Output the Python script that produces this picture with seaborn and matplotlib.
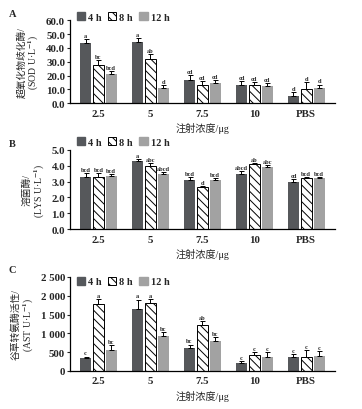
import numpy as np
import pandas as pd
import seaborn as sns
import matplotlib
matplotlib.use("Agg")
import matplotlib.pyplot as plt
from matplotlib.patches import Patch
from matplotlib.ticker import FuncFormatter, MultipleLocator

# ---------------- data ----------------
doses = ["2.5", "5", "7.5", "10", "PBS"]
times = ["4 h", "8 h", "12 h"]

sod_4h = [43.5, 44.5, 16.5, 13.0, 5.5]
sod_8h = [27.5, 32.0, 13.0, 13.0, 10.0]
sod_12h = [21.0, 11.0, 14.5, 12.5, 11.0]
sod_err_4h = [3.0, 2.5, 4.0, 3.0, 2.5]
sod_err_8h = [4.0, 3.5, 3.0, 2.5, 5.0]
sod_err_12h = [2.0, 2.0, 2.0, 2.0, 2.5]
sod_sig_4h = ["a", "a", "cd", "cd", "d"]
sod_sig_8h = ["bc", "ab", "cd", "cd", "d"]
sod_sig_12h = ["bcd", "d", "cd", "cd", "d"]

lys_4h = [3.30, 4.30, 3.10, 3.45, 3.00]
lys_8h = [3.30, 4.00, 2.65, 4.10, 3.25]
lys_12h = [3.35, 3.45, 3.10, 3.90, 3.20]
lys_err_4h = [0.25, 0.15, 0.20, 0.20, 0.15]
lys_err_8h = [0.25, 0.20, 0.05, 0.10, 0.05]
lys_err_12h = [0.15, 0.15, 0.15, 0.15, 0.10]
lys_sig_4h = ["bcd", "a", "bcd", "abcd", "cd"]
lys_sig_8h = ["bcd", "abc", "d", "ab", "bcd"]
lys_sig_12h = ["bcd", "abcd", "bcd", "abc", "bcd"]

ast_4h = [330, 1650, 600, 210, 380]
ast_8h = [1770, 1810, 1210, 420, 380]
ast_12h = [560, 920, 790, 380, 400]
ast_err_4h = [50, 250, 100, 40, 60]
ast_err_8h = [150, 100, 120, 70, 170]
ast_err_12h = [120, 120, 100, 120, 120]
ast_sig_4h = ["c", "a", "bc", "c", "c"]
ast_sig_8h = ["a", "a", "ab", "c", "c"]
ast_sig_12h = ["bc", "bc", "bc", "c", "c"]

# ---------------- style ----------------
sns.set_style("white")
plt.rcParams["font.family"] = ["Liberation Serif", "Noto Sans CJK SC"]
plt.rcParams["mathtext.fontset"] = "stix"
plt.rcParams["hatch.linewidth"] = 0.7
plt.rcParams["font.weight"] = "bold"

c4 = "#55585c"
c12 = "#a2a2a2"
palette = {"4 h": c4, "8 h": "white", "12 h": c12}
HATCH = "\\\\\\\\"


def make_df(v4, v8, v12):
    rows = []
    for t, vals in zip(times, [v4, v8, v12]):
        for d, v in zip(doses, vals):
            rows.append({"dose": d, "time": t, "value": v})
    return pd.DataFrame(rows)


def panel(ax, vals, errs, sigs, ymax, ystep, fmt, ylabel, letter, leg_y, sig_off):
    df = make_df(*vals)
    sns.barplot(data=df, x="dose", y="value", hue="time", order=doses,
                hue_order=times, palette=palette, width=0.74, gap=0.14,
                errorbar=None, ax=ax, legend=False, linewidth=0)
    bar_conts = list(ax.containers)
    for i, cont in enumerate(bar_conts):
        for j, bar in enumerate(cont.patches):
            if i == 1:
                bar.set_facecolor("white")
                bar.set_edgecolor("black")
                bar.set_hatch(HATCH)
                bar.set_linewidth(0.7)
            x = bar.get_x() + bar.get_width() / 2
            h = bar.get_height()
            e = errs[i][j]
            ax.errorbar(x, h, yerr=[[0], [e]], fmt="none", ecolor="black",
                        elinewidth=0.7, capsize=1.8, capthick=0.7)
            ax.text(x, h + e + sig_off, sigs[i][j], ha="center", va="bottom",
                    fontsize=4.6, fontweight="bold")
    ax.set_ylim(0, ymax)
    ax.set_xlim(-0.55, 4.55)
    ax.yaxis.set_major_locator(MultipleLocator(ystep))
    ax.yaxis.set_major_formatter(FuncFormatter(fmt))
    sns.despine(ax=ax)
    for s in ["left", "bottom"]:
        ax.spines[s].set_linewidth(0.9)
        ax.spines[s].set_color("black")
    ax.tick_params(axis="y", direction="out", length=2, width=0.8, pad=1.5,
                   labelsize=7.8, left=True)
    ax.tick_params(axis="x", length=0, pad=4, labelsize=7.8)
    for lab in ax.get_xticklabels() + ax.get_yticklabels():
        lab.set_fontweight("bold")
    ax.set_xlabel("注射浓度/μg", fontsize=7.3, labelpad=3)
    ax.set_ylabel(ylabel, fontsize=7.0, labelpad=3.5, linespacing=1.05)
    handles = [Patch(facecolor=c4, edgecolor=c4, label="4 h"),
               Patch(facecolor="white", edgecolor="black", hatch=HATCH,
                     linewidth=0.7, label="8 h"),
               Patch(facecolor=c12, edgecolor=c12, label="12 h")]
    leg = ax.legend(handles=handles, ncol=3, loc="center left",
                    bbox_to_anchor=(0.01, leg_y), frameon=False,
                    fontsize=7.5, handlelength=0.8, handleheight=0.8,
                    handletextpad=0.3, columnspacing=0.6, borderaxespad=0)
    for t in leg.get_texts():
        t.set_fontweight("bold")
    ax.text(-0.23, 1.08, letter, transform=ax.transAxes, fontsize=7.5,
            fontweight="bold", ha="left", va="center")


fig = plt.figure(figsize=(3.62, 4.10), dpi=100)
axA = fig.add_axes([0.193, 0.746, 0.732, 0.202])
axB = fig.add_axes([0.193, 0.439, 0.732, 0.193])
axC = fig.add_axes([0.193, 0.093, 0.732, 0.229])

panel(axA, [sod_4h, sod_8h, sod_12h], [sod_err_4h, sod_err_8h, sod_err_12h],
      [sod_sig_4h, sod_sig_8h, sod_sig_12h], 60, 10,
      lambda v, p: f"{v:.1f}", "超氧化物歧化酶/\n(SOD U·L$^{-1}$)", "A", 1.04, 0.8)
panel(axB, [lys_4h, lys_8h, lys_12h], [lys_err_4h, lys_err_8h, lys_err_12h],
      [lys_sig_4h, lys_sig_8h, lys_sig_12h], 5, 1,
      lambda v, p: f"{v:.1f}", "溶菌酶/\n(LYS U·L$^{-1}$)", "B", 1.10, 0.05)
panel(axC, [ast_4h, ast_8h, ast_12h], [ast_err_4h, ast_err_8h, ast_err_12h],
      [ast_sig_4h, ast_sig_8h, ast_sig_12h], 2500, 500,
      lambda v, p: f"{int(v):,}".replace(",", " "),
      "谷草转氨酶活性/\n(AST U·L$^{-1}$)", "C", 0.95, 30)

fig.savefig("out.png", dpi=100)
